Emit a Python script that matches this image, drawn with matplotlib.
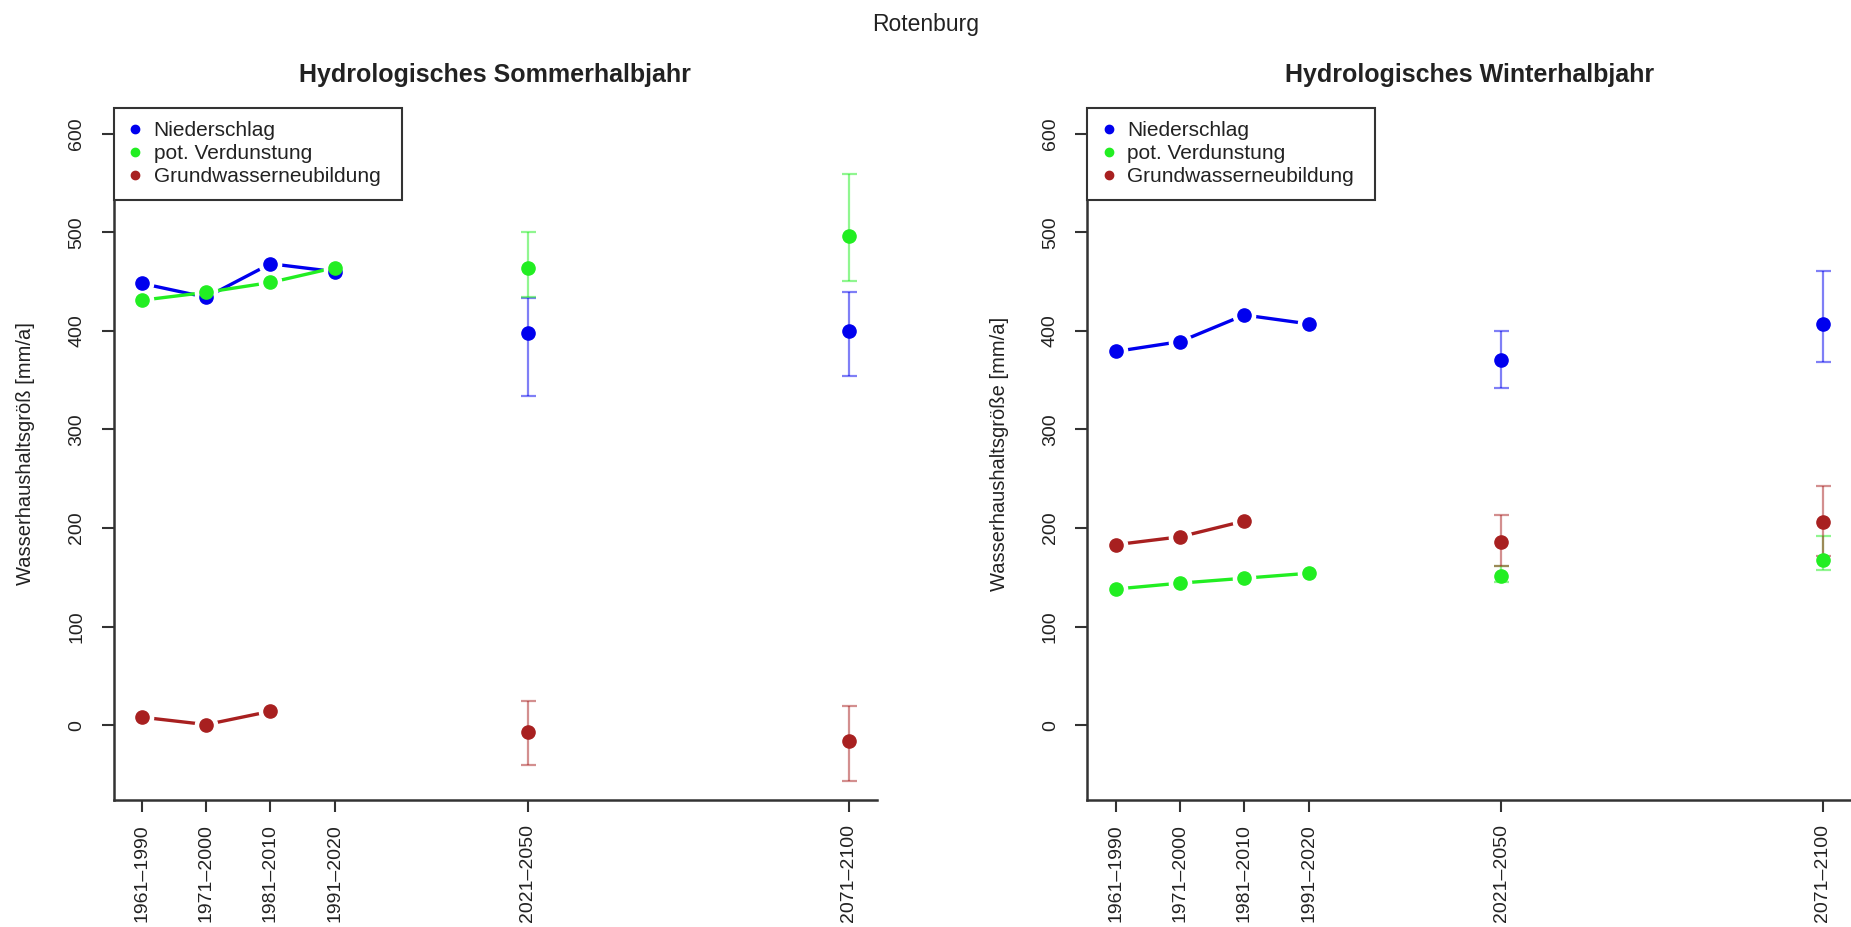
import matplotlib.pyplot as plt
from matplotlib.lines import Line2D
import numpy as np

# Schrift wie im R-Original (Arial-aehnlich)
plt.rcParams.update({'font.family': 'Liberation Sans', 'font.size': 14})

# Zeitraeume (x = Startjahr, damit die Abstaende stimmen)
perioden = ['1961–1990', '1971–2000', '1981–2010', '1991–2020', '2021–2050', '2071–2100']
x_start = [1961, 1971, 1981, 1991, 2021, 2071]

# Sommerhalbjahr - Beobachtung
som_nied = [448, 434, 468, 460]
som_verd = [431, 439, 449, 464]
som_gwn = [8, 0.5, 14]
# Sommerhalbjahr - Projektionen (Mittel, min, max) fuer 2021-2050 und 2071-2100
som_nied_proj = [398, 400]
som_nied_min = [334, 354]
som_nied_max = [433, 439]
som_verd_proj = [464, 496]
som_verd_min = [434, 450]
som_verd_max = [500, 559]
som_gwn_proj = [-7, -16]
som_gwn_min = [-41, -57]
som_gwn_max = [24, 19]

# Winterhalbjahr - Beobachtung
win_nied = [379, 389, 416, 407]
win_verd = [138, 144, 149, 154]
win_gwn = [183, 191, 207]
# Winterhalbjahr - Projektionen
win_nied_proj = [370, 407]
win_nied_min = [342, 368]
win_nied_max = [400, 461]
win_verd_proj = [151, 167]
win_verd_min = [145, 157]
win_verd_max = [161, 192]
win_gwn_proj = [186, 206]
win_gwn_min = [161, 172]
win_gwn_max = [213, 243]

namen = ['Niederschlag', 'pot. Verdunstung', 'Grundwasserneubildung']
farben = ['#0000ee', '#22ee22', '#a82020']
achsfarbe = '#333333'


def panel(ax, titel, ylabel, beob, proj):
    x_hist = x_start[:4]
    x_proj = x_start[4:]
    for farbe, werte, (mittel, lo, hi) in zip(farben, beob, proj):
        xh = x_hist[:len(werte)]
        mittel = np.array(mittel)
        # Linie mit Luecken um die Punkte (wie type="b" in R)
        ax.plot(xh, werte, color=farbe, lw=2.4, zorder=2)
        ax.plot(xh, werte, 'o', ms=16, color='white', zorder=3)
        ax.plot(xh, werte, 'o', ms=9.5, color=farbe, zorder=5)
        # Projektionen mit Spannweite
        ax.errorbar(x_proj, mittel, yerr=[mittel - np.array(lo), np.array(hi) - mittel],
                    fmt='none', ecolor=farbe, alpha=0.5, elinewidth=1.6,
                    capsize=5.4, capthick=1.6, zorder=4)
        ax.plot(x_proj, mittel, 'o', ms=9.5, color=farbe, zorder=5)

    ax.set_xlim(1956.6, 2075.4)
    ax.set_ylim(-76, 626)
    ax.spines['top'].set_visible(False)
    ax.spines['right'].set_visible(False)
    for s in ['left', 'bottom']:
        ax.spines[s].set_color(achsfarbe)
        ax.spines[s].set_linewidth(1.8)

    ax.set_xticks(x_start)
    ax.set_xticklabels(perioden, rotation=90)
    ax.set_yticks([0, 100, 200, 300, 400, 500, 600])
    ax.set_yticklabels(['0', '100', '200', '300', '400', '500', '600'], rotation=90, va='center')
    ax.tick_params(axis='both', direction='out', length=8.6, width=1.5, color=achsfarbe,
                   labelcolor='#222222', labelsize=14)
    ax.tick_params(axis='y', pad=12)
    ax.tick_params(axis='x', pad=9)

    ax.set_ylabel(ylabel, fontsize=14.5, color='#222222')
    ax.yaxis.set_label_coords(-0.103, 0.5)
    ax.set_title(titel, fontweight='bold', fontsize=18, pad=19, color='#222222')

    handles = [Line2D([], [], marker='o', ls='none', color=f, ms=6) for f in farben]
    leg = ax.legend(handles, namen, loc='upper left', bbox_to_anchor=(0, 1, 0.377, 0),
                    mode='expand', borderaxespad=0, fancybox=False, edgecolor=achsfarbe,
                    framealpha=1, fontsize=15, borderpad=0.64, labelspacing=0.19,
                    handlelength=0.74, handletextpad=0.54)
    leg.get_frame().set_linewidth(1.5)
    for t in leg.get_texts():
        t.set_color('#222222')


fig = plt.figure(figsize=(18.51, 9.27), dpi=100)
ax1 = fig.add_axes([0.0614, 0.137, 0.4125, 0.7465])
ax2 = fig.add_axes([0.5875, 0.137, 0.4125, 0.7465])

panel(ax1, 'Hydrologisches Sommerhalbjahr', 'Wasserhaushaltsgröß [mm/a]',
      [som_nied, som_verd, som_gwn],
      [(som_nied_proj, som_nied_min, som_nied_max),
       (som_verd_proj, som_verd_min, som_verd_max),
       (som_gwn_proj, som_gwn_min, som_gwn_max)])

panel(ax2, 'Hydrologisches Winterhalbjahr', 'Wasserhaushaltsgröße [mm/a]',
      [win_nied, win_verd, win_gwn],
      [(win_nied_proj, win_nied_min, win_nied_max),
       (win_verd_proj, win_verd_min, win_verd_max),
       (win_gwn_proj, win_gwn_min, win_gwn_max)])

fig.suptitle('Rotenburg', y=0.974, va='center', fontsize=16.5, color='#222222')

plt.savefig('out.png', dpi=100)
plt.close()
